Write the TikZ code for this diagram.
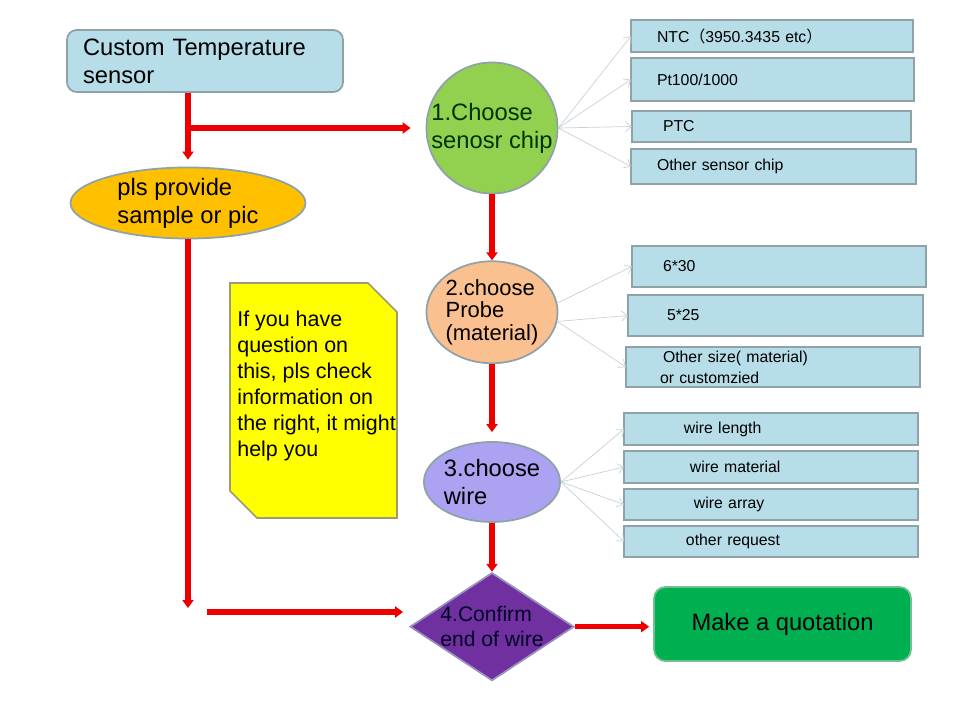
\documentclass[tikz,border=0pt]{standalone}
\usepackage{fontspec}
\setmainfont{Liberation Sans}
\newfontfamily\cjk{Noto Sans CJK SC}
\usepackage{tikz}
\usetikzlibrary{shapes.geometric, arrows.meta, positioning}
\usepackage{xcolor}
\definecolor{tempfill}{HTML}{B7DDE8}
\definecolor{edgegray}{HTML}{8EA2A8}
\definecolor{plsorange}{HTML}{FFC000}
\definecolor{chipgreen}{HTML}{92D050}
\definecolor{probepeach}{HTML}{FAC090}
\definecolor{wirelilac}{HTML}{ACA2F2}
\definecolor{confirmpurple}{HTML}{7030A0}
\definecolor{confirmedge}{HTML}{9A90C0}
\definecolor{quotegreen}{HTML}{00B050}
\definecolor{quoteedge}{HTML}{70C090}
\definecolor{noteyellow}{HTML}{FFFF00}
\definecolor{noteedge}{HTML}{9C9C70}
\definecolor{flowred}{HTML}{EE0000}
\definecolor{linkgray}{HTML}{C6D2D6}

\begin{document}
\begin{tikzpicture}[
    x=0.02cm, y=-0.02cm,
    bigtext/.style={font=\fontsize{13.5pt}{16pt}\selectfont},
    mainbox/.style={draw=edgegray, line width=1pt, rounded corners=5.5pt, align=left, bigtext},
    bubble/.style={ellipse, draw=edgegray, line width=1pt, inner sep=0pt, align=left, bigtext},
    optbox/.style={draw=edgegray, fill=tempfill, line width=1.6pt, inner xsep=0pt, inner ysep=0pt, outer sep=0pt, anchor=north west, align=left, font=\fontsize{9pt}{12pt}\selectfont},
    flow/.style={-{Triangle[length=1.6mm, width=2.2mm]}, line width=3pt, flowred},
    link/.style={-{Straight Barb[length=1.2mm, width=2mm]}, line width=0.4pt, linkgray}
]
    \useasboundingbox (0,0) rectangle (960,720);

    \node[mainbox, fill=tempfill, text width=4.88cm, inner xsep=0.32cm, minimum height=1.24cm] (temp) at (205,61) {Custom Temperature\\sensor};
    \node[bubble, fill=plsorange, minimum width=4.7cm, minimum height=1.32cm] (pls) at (188,203) {pls provide\\sample or pic};

    \node[circle, draw=edgegray, line width=1pt, inner sep=0pt, align=left, bigtext, fill=chipgreen, text=black!80!green, minimum size=2.56cm] (chip) at (492,128) {1.Choose\\senosr chip};
    \node[bubble, fill=probepeach, minimum width=2.58cm, minimum height=2.04cm, font=\fontsize{12.5pt}{13pt}\selectfont, below=1.32cm of chip] (probe) {2.choose\\Probe\\(material)};
    \node[bubble, fill=wirelilac, minimum width=2.56cm, minimum height=1.6cm, below=1.54cm of probe] (wire) {3.choose\\wire};
    \node[diamond, aspect=1.52, draw=confirmedge, line width=1pt, inner sep=0pt, fill=confirmpurple, text=black!85!blue, align=left, font=\fontsize{12pt}{14pt}\selectfont, below=0.98cm of wire] (confirm) {4.Confirm\\end of wire};
    \node[mainbox, fill=quotegreen, draw=quoteedge, rounded corners=6.5pt, align=center, minimum width=5.14cm, minimum height=1.48cm] (quote) at (782.5,624) {Make a quotation};

    \draw[fill=noteyellow, draw=noteedge, line width=1pt] (230,283) -- (368,283) -- (397,312) -- (397,518) -- (257,518) -- (230,491) -- cycle;
    \node[inner sep=0pt, anchor=north west, align=left, font=\fontsize{12.2pt}{14.7pt}\selectfont] (notetext) at (237,311) {If you have\\question on\\this, pls check\\information on\\the right, it might\\help you};

    \node[optbox, text width=5.64cm, minimum height=0.64cm] (ntc) at (631,20) {\hspace*{0.52cm}NTC{\cjk （}3950.3435 etc{\cjk ）}};
    \node[optbox, text width=5.66cm, minimum height=0.86cm] (pt) at (631,58) {\hspace*{0.52cm}Pt100/1000};
    \node[optbox, text width=5.58cm, minimum height=0.62cm] (ptc) at (632,111) {\hspace*{0.62cm}PTC};
    \node[optbox, text width=5.7cm, minimum height=0.7cm] (othchip) at (631,149) {\hspace*{0.52cm}Other sensor chip};

    \node[optbox, text width=5.88cm, minimum height=0.82cm] (s630) at (632,246) {\hspace*{0.62cm}6*30};
    \node[optbox, text width=5.9cm, minimum height=0.82cm] (s525) at (628,295) {\hspace*{0.78cm}5*25};
    \node[optbox, text width=5.88cm, minimum height=0.8cm] (othsize) at (626,347) {\hspace*{0.74cm}Other size( material)\\\hspace*{0.68cm}or customzied};

    \node[optbox, text width=5.88cm, minimum height=0.64cm] (wlen) at (624,413) {\hspace*{1.2cm}wire length};
    \node[optbox, text width=5.88cm, minimum height=0.64cm] (wmat) at (624,451) {\hspace*{1.32cm}wire material};
    \node[optbox, text width=5.88cm, minimum height=0.62cm] (warr) at (624,489) {\hspace*{1.4cm}wire array};
    \node[optbox, text width=5.88cm, minimum height=0.62cm] (wreq) at (624,526) {\hspace*{1.24cm}other request};

    \coordinate (split) at (pls.north |- chip.west);
    \coordinate (turn) at (188,612);
    \coordinate (gap) at (207,612);

    \draw[flow, shorten >=1.4mm] (pls.north |- temp.south) -- (pls.north);
    \draw[flow, shorten >=3mm] (split) -- (chip.west);
    \draw[flow] (chip) -- (probe);
    \draw[flow, shorten >=1.8mm] (probe) -- (wire);
    \draw[flow] (wire) -- (confirm);
    \draw[flow, shorten >=0.8mm] (pls.south) -- (turn);
    \draw[flow, shorten >=1.2mm] (gap) -- (confirm.west |- gap);
    \draw[flow, shorten >=0.8mm] (confirm.east) -- (confirm.east -| quote.west);

    \draw[link] (chip.east) -- (ntc.west);
    \draw[link] (chip.east) -- (pt.west);
    \draw[link] (chip.east) -- (ptc.west);
    \draw[link] (chip.east) -- (othchip.west);
    \draw[link] (probe.8) -- (s630.west);
    \draw[link] (probe.-8) -- (s525.west);
    \draw[link] (probe.-8) -- (othsize.west);
    \draw[link] (wire.east) -- (wlen.west);
    \draw[link] (wire.east) -- (wmat.west);
    \draw[link] (wire.east) -- (warr.west);
    \draw[link] (wire.east) -- (wreq.west);
\end{tikzpicture}
\end{document}
